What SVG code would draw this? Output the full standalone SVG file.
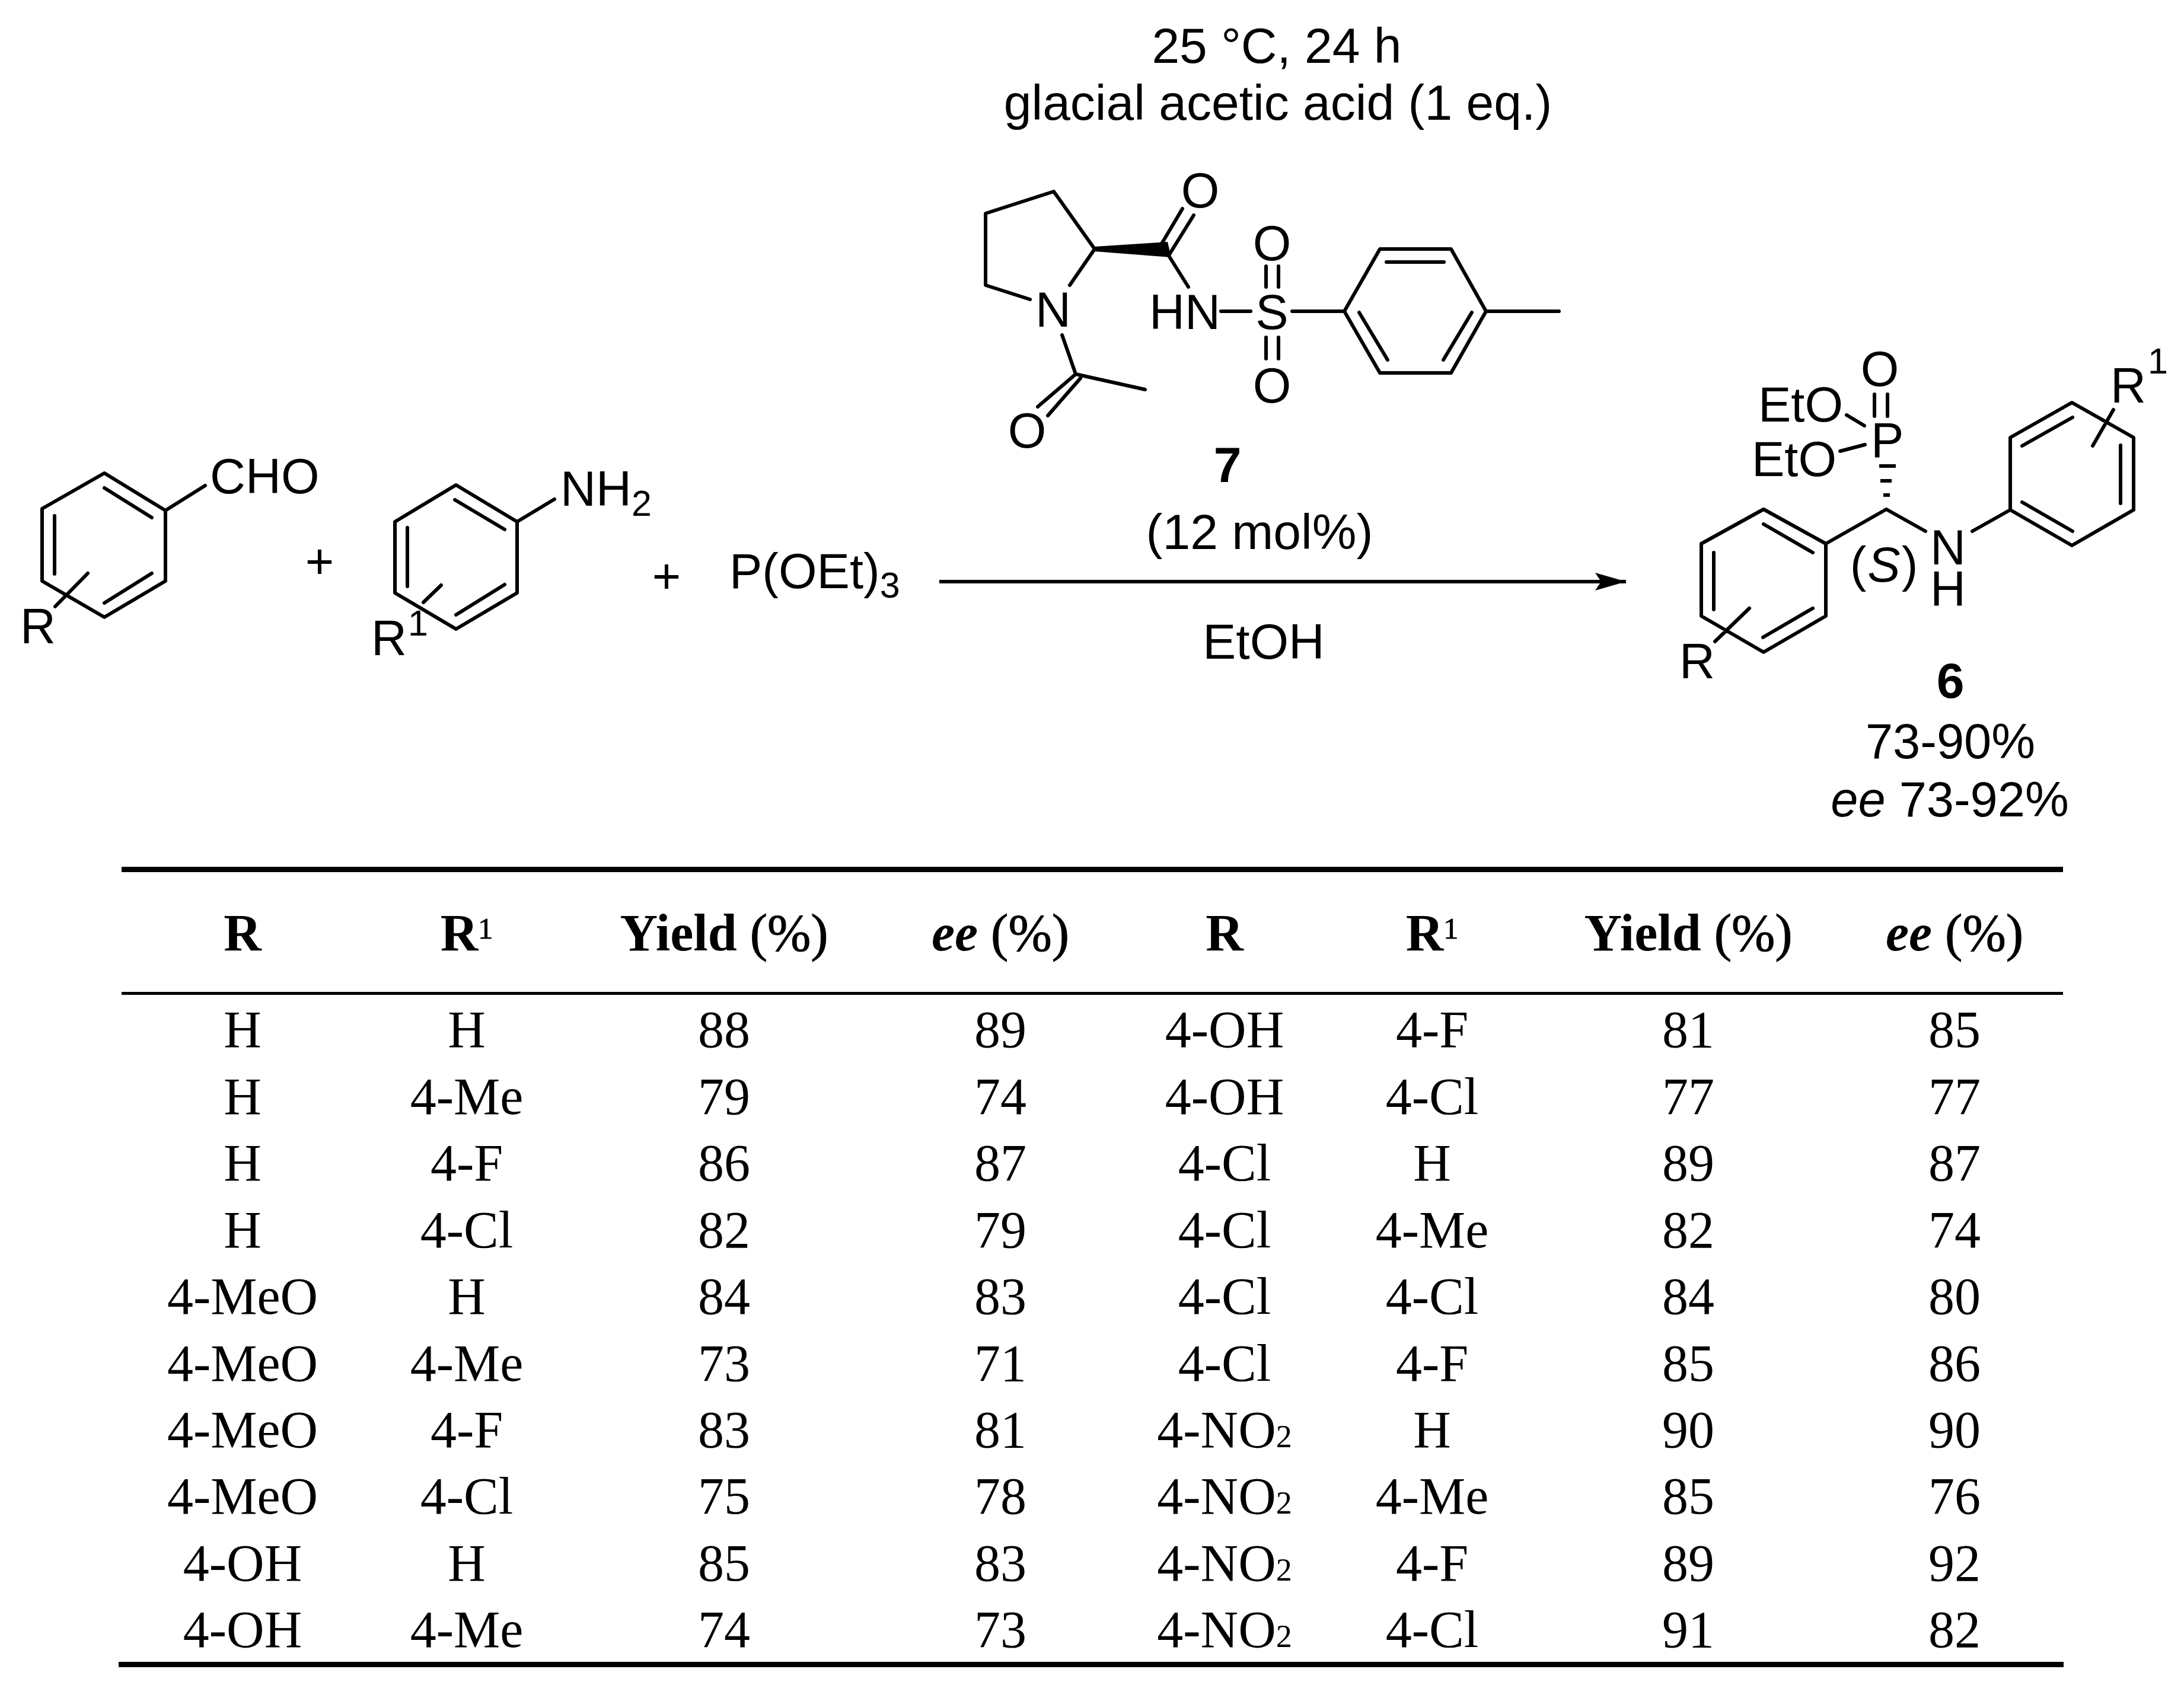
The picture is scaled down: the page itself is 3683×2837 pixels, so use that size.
<svg xmlns="http://www.w3.org/2000/svg" width="3683" height="2837" viewBox="0 0 3683 2837">
<style>
text{fill:#000}
.a{font-family:"Liberation Sans",Arial,sans-serif;font-size:84px}
.l{font-family:"Liberation Sans",Arial,sans-serif;font-size:83px}
.s{font-family:"Liberation Sans",Arial,sans-serif;font-size:61px}
.y{font-size:83px}
.b{font-weight:700}
.i{font-style:italic}
.m{text-anchor:middle}
.t text{font-family:"Liberation Serif","Times New Roman",serif;font-size:88px;text-anchor:middle}
.t .h{font-weight:700}
.t .r{font-weight:400;stroke:#000;stroke-width:1}
.t .u{font-size:50px;font-weight:400;stroke:#000;stroke-width:1}
.t .d{font-size:54px}
.bond{fill:none;stroke:#000;stroke-width:6;stroke-linecap:round;stroke-linejoin:round}
</style>
<defs>
<marker id="ah" markerUnits="userSpaceOnUse" markerWidth="54" markerHeight="32" refX="52" refY="16" orient="auto"><path d="M0 1L52 16L0 31L10 16Z" fill="#000"/></marker>
</defs>
<rect width="3683" height="2837" fill="#fff"/>

<g id="benzaldehyde">
<path class="bond" d="M176 798L279 861V980L176 1041L71 980V858ZM176 823L256 873M256 967L176 1017M92 870V968M279 861L346 819M148 967L93 1023"/>
<text class="l" x="354" y="832">CHO</text>
<text class="l" x="34" y="1085">R</text>
</g>
<text class="l m" x="539" y="975">+</text>
<g id="aniline">
<path class="bond" d="M769 818L872 880V1000L769 1061L666 1000V880ZM767 843L851 893M851 986L769 1037M687 890V989M872 880L935 842M744 987L714 1016"/>
<text class="l" x="945" y="853">NH<tspan class="s" dy="17">2</tspan></text>
<text class="l" x="626" y="1105">R</text>
<text class="s" x="688" y="1072">1</text>
</g>
<text class="l m" x="1124" y="1000">+</text>
<g id="phosphite">
<text class="l" x="1230" y="992">P(OEt)<tspan class="s" dy="16">3</tspan></text>
</g>

<g id="conditions">
<text class="a m" x="2153" y="106">25 °C, 24 h</text>
<text class="a m" x="2155" y="202">glacial acetic acid (1 eq.)</text>
<text class="a b m" x="2070" y="813">7</text>
<text class="a m" x="2124" y="926">(12 mol%)</text>
<text class="a m" x="2131" y="1111">EtOH</text>
</g>

<g id="catalyst7">
<path class="bond" d="M1737 505L1662 481V360L1777 323L1846 420L1804 481M1791 565L1814 631L1931 657M1814 631L1750 686M1822 638L1767 701M1959 411L1994 352M1972 429L2013 363M1972 433L2004 484M2059 525H2109M2179 525H2267M2135 449V484M2156 449V484M2135 569V605M2156 569V605"/>
<path d="M1846 416L1969 408L1975 434L1846 424Z" fill="#000"/>
<path class="bond" d="M2267 525L2327 420H2447L2506 525L2447 629H2327ZM2338 442H2435M2292 527L2340 607M2482 527L2434 607M2506 525H2629"/>
<text class="l m" x="1776" y="551">N</text>
<text class="l m" x="2024" y="350">O</text>
<text class="l m" x="1732" y="755">O</text>
<text class="l" x="1938" y="555">HN</text>
<text class="l m" x="2145" y="555">S</text>
<text class="l m" x="2145" y="439">O</text>
<text class="l m" x="2145" y="679">O</text>
</g>

<g id="connectors">
<path d="M1584 981H2742" fill="none" stroke="#000" stroke-width="6" marker-end="url(#ah)"/>
</g>

<g id="product6">
<path class="bond" d="M2974 859L3079 917V1039L2974 1100L2869 1039V917ZM2974 884L3057 932M3057 1026L2973 1075M2890 932V1028M3079 917L3181 859L3247 896M3326 896L3390 860L3494 920L3598 860V738L3494 679L3390 738V860M3410 847L3495 896M3576 849V751M3410 752L3495 704M3564 691L3529 752M2950 1026L2892 1082M3114 700L3144 718M3103 761L3145 750M3161 665V702M3183 665V702"/>
<path d="M3169 786H3197M3171 811H3190M3176 835H3187" stroke="#000" stroke-width="6" fill="none"/>
<text class="l" x="3255" y="952">N</text>
<text class="l" x="3255" y="1022">H</text>
<text class="l" x="3559" y="679">R</text>
<text class="s" x="3622" y="630">1</text>
<text class="l" x="2832" y="1144">R</text>
<text class="l" x="3155" y="771">P</text>
<text class="l m" x="3170" y="651">O</text>
<text class="l" x="2965" y="711">EtO</text>
<text class="l" x="2954" y="803">EtO</text>
<text class="l m" x="3178" y="981" letter-spacing="2">(<tspan class="i">S</tspan>)</text>
<text class="a b m" x="3289" y="1177">6</text>
<text class="a y m" x="3289" y="1279">73-90%</text>
<text class="a y m" x="3288" y="1377"><tspan class="i">ee</tspan> 73-92%</text>
</g>

<g id="table" class="t">
<rect x="205" y="1462" width="3274" height="9"/>
<rect x="205" y="1673" width="3274" height="5"/>
<rect x="200" y="2803" width="3280" height="9"/>
<text class="h" x="409" y="1603">R</text>
<text class="h" x="787" y="1603">R<tspan class="u" dy="-20">1</tspan></text>
<text class="h" x="1221" y="1603">Yield<tspan class="r"> (%)</tspan></text>
<text class="h" x="1687" y="1603"><tspan class="i">ee</tspan><tspan class="r"> (%)</tspan></text>
<text class="h" x="2065" y="1603">R</text>
<text class="h" x="2415" y="1603">R<tspan class="u" dy="-20">1</tspan></text>
<text class="h" x="2847" y="1603">Yield<tspan class="r"> (%)</tspan></text>
<text class="h" x="3296" y="1603"><tspan class="i">ee</tspan><tspan class="r"> (%)</tspan></text>

<text x="409" y="1766">H</text><text x="787" y="1766">H</text><text x="1221" y="1766">88</text><text x="1687" y="1766">89</text><text x="2065" y="1766">4-OH</text><text x="2415" y="1766">4-F</text><text x="2847" y="1766">81</text><text x="3296" y="1766">85</text>
<text x="409" y="1879">H</text><text x="787" y="1879">4-Me</text><text x="1221" y="1879">79</text><text x="1687" y="1879">74</text><text x="2065" y="1879">4-OH</text><text x="2415" y="1879">4-Cl</text><text x="2847" y="1879">77</text><text x="3296" y="1879">77</text>
<text x="409" y="1991">H</text><text x="787" y="1991">4-F</text><text x="1221" y="1991">86</text><text x="1687" y="1991">87</text><text x="2065" y="1991">4-Cl</text><text x="2415" y="1991">H</text><text x="2847" y="1991">89</text><text x="3296" y="1991">87</text>
<text x="409" y="2104">H</text><text x="787" y="2104">4-Cl</text><text x="1221" y="2104">82</text><text x="1687" y="2104">79</text><text x="2065" y="2104">4-Cl</text><text x="2415" y="2104">4-Me</text><text x="2847" y="2104">82</text><text x="3296" y="2104">74</text>
<text x="409" y="2216">4-MeO</text><text x="787" y="2216">H</text><text x="1221" y="2216">84</text><text x="1687" y="2216">83</text><text x="2065" y="2216">4-Cl</text><text x="2415" y="2216">4-Cl</text><text x="2847" y="2216">84</text><text x="3296" y="2216">80</text>
<text x="409" y="2329">4-MeO</text><text x="787" y="2329">4-Me</text><text x="1221" y="2329">73</text><text x="1687" y="2329">71</text><text x="2065" y="2329">4-Cl</text><text x="2415" y="2329">4-F</text><text x="2847" y="2329">85</text><text x="3296" y="2329">86</text>
<text x="409" y="2441">4-MeO</text><text x="787" y="2441">4-F</text><text x="1221" y="2441">83</text><text x="1687" y="2441">81</text><text x="2065" y="2441">4-NO<tspan class="d">2</tspan></text><text x="2415" y="2441">H</text><text x="2847" y="2441">90</text><text x="3296" y="2441">90</text>
<text x="409" y="2553">4-MeO</text><text x="787" y="2553">4-Cl</text><text x="1221" y="2553">75</text><text x="1687" y="2553">78</text><text x="2065" y="2553">4-NO<tspan class="d">2</tspan></text><text x="2415" y="2553">4-Me</text><text x="2847" y="2553">85</text><text x="3296" y="2553">76</text>
<text x="409" y="2666">4-OH</text><text x="787" y="2666">H</text><text x="1221" y="2666">85</text><text x="1687" y="2666">83</text><text x="2065" y="2666">4-NO<tspan class="d">2</tspan></text><text x="2415" y="2666">4-F</text><text x="2847" y="2666">89</text><text x="3296" y="2666">92</text>
<text x="409" y="2778">4-OH</text><text x="787" y="2778">4-Me</text><text x="1221" y="2778">74</text><text x="1687" y="2778">73</text><text x="2065" y="2778">4-NO<tspan class="d">2</tspan></text><text x="2415" y="2778">4-Cl</text><text x="2847" y="2778">91</text><text x="3296" y="2778">82</text>
</g>
</svg>
